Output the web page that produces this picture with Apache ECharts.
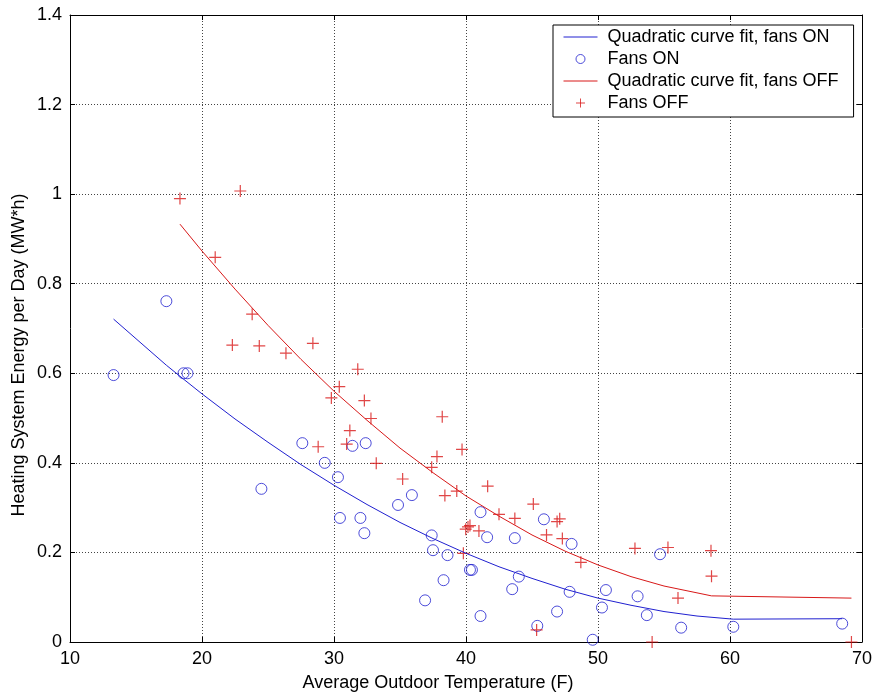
<!DOCTYPE html>
<html><head><meta charset="utf-8">
<script src="https://cdn.jsdelivr.net/npm/echarts@6/dist/echarts.min.js"></script>
<style>html,body{margin:0;padding:0;background:#fff}#c{width:876px;height:696px}</style>
</head><body><div id="c"></div><script>
const FONT = 'Liberation Sans, Arial, Helvetica, sans-serif';
const xTicks = [10, 20, 30, 40, 50, 60, 70];
const yTicks = [0, 0.2, 0.4, 0.6, 0.8, 1, 1.2, 1.4];

const fansOnTemp = [13.3,17.3,18.6,18.9,24.5,27.6,29.3,30.3,30.45,31.4,32.0,32.3,32.4,34.85,35.9,36.9,37.4,37.5,38.3,38.6,40.3,40.45,41.1,41.1,41.6,43.5,43.7,44.0,45.4,45.9,46.9,47.85,48.0,49.6,50.3,50.6,53.0,53.7,54.7,56.3,60.25,68.5];
const fansOnEnergy = [0.596,0.761,0.600,0.600,0.342,0.444,0.400,0.368,0.277,0.438,0.277,0.243,0.444,0.306,0.328,0.093,0.238,0.205,0.138,0.194,0.161,0.161,0.290,0.058,0.234,0.118,0.232,0.146,0.036,0.274,0.068,0.112,0.219,0.005,0.077,0.116,0.102,0.060,0.196,0.032,0.034,0.041];

const fansOffTemp = [18.33,22.9,21.0,23.8,22.3,24.34,26.36,28.4,31.8,30.4,29.8,32.3,32.8,38.2,31.2,30.96,28.8,39.7,33.2,37.8,37.4,35.2,41.64,38.4,39.3,42.5,43.7,45.1,46.9,47.1,40.15,40.3,39.98,40.98,46.1,47.3,39.8,48.7,45.35,52.8,55.3,58.56,58.6,56.06,54.1,69.2];
const fansOffEnergy = [0.990,1.007,0.859,0.732,0.663,0.661,0.645,0.667,0.609,0.570,0.545,0.539,0.499,0.503,0.472,0.442,0.436,0.430,0.399,0.414,0.390,0.364,0.348,0.327,0.337,0.285,0.276,0.308,0.269,0.275,0.257,0.260,0.252,0.248,0.239,0.231,0.198,0.178,0.027,0.209,0.211,0.204,0.147,0.098,0.000,0.000];

const fitOnTemp = [13.3,17.3,18.6,20,22.5,25,27.5,30,32.5,35,37.5,40,42.5,45,47.5,50,52.5,55,57.5,60.25,68.5];
const fitOnEnergy = [0.721,0.618,0.587,0.554,0.498,0.446,0.396,0.350,0.307,0.267,0.231,0.198,0.168,0.142,0.118,0.098,0.082,0.068,0.058,0.051,0.052];

const fitOffTemp = [18.33,20,22.5,25,27.5,30,32.5,35,37.5,40,42.5,45,47.5,50,52.5,55,58.6,69.2];
const fitOffEnergy = [0.933,0.873,0.788,0.707,0.631,0.560,0.495,0.433,0.378,0.326,0.281,0.239,0.203,0.172,0.146,0.125,0.103,0.098];

const zip = (a, b) => a.map((v, i) => [v, b[i]]);
const BLUE = '#2020d0', RED = '#d81818';
const PLUS = 'path://M0,5L10,5M5,0L5,10';

const baseX = {type:'value', min:xTicks[0], max:xTicks[xTicks.length-1], interval:10};
const baseY = {type:'value', min:yTicks[0], max:yTicks[yTicks.length-1], interval:0.2};
const axLine = {show:true, onZero:false, lineStyle:{color:'#000', width:1}};
const tick = {show:true, inside:true, length:5, lineStyle:{color:'#000'}};
const lbl = {color:'#000', fontSize:18, fontFamily:FONT, margin:8};
const grid = {show:true, lineStyle:{color:'#444', type:[1,2], width:1}};
const hidden = {color:'transparent', borderColor:'transparent', borderWidth:0, opacity:0};

const chart = echarts.init(document.getElementById('c'));
chart.setOption({
  animation:false,
  backgroundColor:'#fff',
  grid:{left:70, right:14, top:15, bottom:54, containLabel:false},
  xAxis:[
    Object.assign({}, baseX, {position:'bottom', axisLine:axLine, axisTick:tick, axisLabel:lbl, splitLine:grid}),
    Object.assign({}, baseX, {position:'top', axisLine:axLine, axisTick:tick, axisLabel:{show:false}, splitLine:{show:false}})
  ],
  yAxis:[
    Object.assign({}, baseY, {position:'left', axisLine:axLine, axisTick:tick, axisLabel:lbl, splitLine:grid}),
    Object.assign({}, baseY, {position:'right', axisLine:axLine, axisTick:tick, axisLabel:{show:false}, splitLine:{show:false}})
  ],
  legend:{
    orient:'vertical', left:553, top:25,
    backgroundColor:'#fff', borderColor:'#000', borderWidth:1, borderRadius:0,
    padding:[2,15,4,10], itemGap:2, itemWidth:34, itemHeight:9,
    textStyle:{fontSize:18, fontFamily:FONT, color:'#000', lineHeight:20, padding:[0,0,0,5]},
    data:[
      {name:'Quadratic curve fit, fans ON', itemStyle:hidden, lineStyle:{color:BLUE, width:1, opacity:1}},
      {name:'Fans ON', icon:'circle', itemStyle:{color:'transparent', borderColor:BLUE, borderWidth:1}},
      {name:'Quadratic curve fit, fans OFF', itemStyle:hidden, lineStyle:{color:RED, width:1, opacity:1}},
      {name:'Fans OFF', icon:PLUS, itemStyle:{color:'transparent', borderColor:RED, borderWidth:1}}
    ]
  },
  graphic:[
    {type:'text', left:'center', x:0, top:674, style:{text:'Average Outdoor Temperature (F)', fontSize:18, fontFamily:FONT, fill:'#000'}},
    {type:'text', x:19, y:355, rotation:Math.PI/2, style:{text:'Heating System Energy per Day (MW*h)', fontSize:18, fontFamily:FONT, fill:'#000', align:'center', verticalAlign:'middle'}}
  ],
  series:[
    {name:'Quadratic curve fit, fans ON', type:'line', data:zip(fitOnTemp, fitOnEnergy), symbol:'none', smooth:false, lineStyle:{color:BLUE, width:1}, itemStyle:{color:BLUE}, z:3},
    {name:'Fans ON', type:'scatter', data:zip(fansOnTemp, fansOnEnergy), symbol:'circle', symbolSize:11, itemStyle:{color:'transparent', borderColor:BLUE, borderWidth:1}, z:2},
    {name:'Quadratic curve fit, fans OFF', type:'line', data:zip(fitOffTemp, fitOffEnergy), symbol:'none', smooth:false, lineStyle:{color:RED, width:1}, itemStyle:{color:RED}, z:3},
    {name:'Fans OFF', type:'scatter', data:zip(fansOffTemp, fansOffEnergy), symbol:PLUS, symbolSize:12, itemStyle:{color:'transparent', borderColor:RED, borderWidth:1.2}, z:2}
  ]
});
</script></body></html>
